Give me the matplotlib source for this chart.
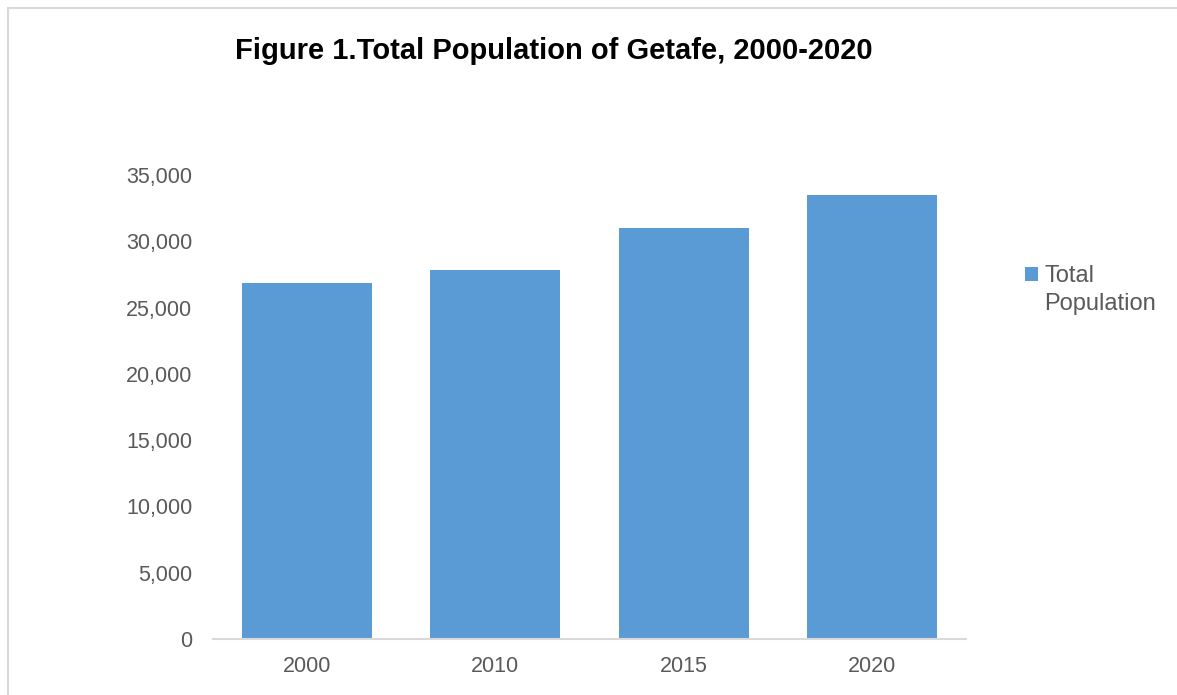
import matplotlib.pyplot as plt
from matplotlib.patches import Rectangle
from matplotlib.container import BarContainer
from matplotlib.legend_handler import HandlerPatch, update_from_first_child
from matplotlib.ticker import FuncFormatter

years = ['2000', '2010', '2015', '2020']
population = [26830, 27830, 31000, 33490]
y_ticks = [0, 5000, 10000, 15000, 20000, 25000, 30000, 35000]

plt.rcParams['font.family'] = ['Liberation Sans', 'DejaVu Sans']

W, H = 1177, 695
fig = plt.figure(figsize=(W / 100, H / 100), dpi=100)

# chart area border (only top and left visible)
fig.patches.append(Rectangle((8 / W, -0.1), 1.2, 1 - 8 / H + 0.1,
                             transform=fig.transFigure, fill=False,
                             edgecolor='#d9d9d9', linewidth=1.5))

ax = fig.add_axes([213 / W, 1 - 639 / H, (966 - 213) / W, (639 - 175) / H])
ax.bar(years, population, width=0.69, color='#5b9bd5', label='Total\nPopulation')
ax.set_xlim(-0.5, 3.5)
ax.set_ylim(0, 35000)
ax.set_yticks(y_ticks)
ax.yaxis.set_major_formatter(FuncFormatter(lambda v, p: f'{int(v):,}'))

for s in ['top', 'right', 'left']:
    ax.spines[s].set_visible(False)
ax.spines['bottom'].set_color('#d9d9d9')
ax.spines['bottom'].set_linewidth(1.5)
ax.tick_params(axis='both', length=0, labelsize=15.5, colors='#595959')
ax.tick_params(axis='y', pad=15)
ax.tick_params(axis='x', pad=12)

fig.text(554 / W, 1 - 51 / H, 'Figure 1.Total Population of Getafe, 2000-2020',
         ha='center', va='center', fontsize=21, fontweight='bold', color='black')


# legend square sits next to the first line of the label, like Excel
def top_square(legend, orig_handle, xdescent, ydescent, width, height, fontsize):
    return Rectangle((-xdescent, -ydescent + 0.7 * fontsize), width, height)


leg = fig.legend(loc='upper left', bbox_to_anchor=(1016 / W, 1 - 256 / H),
                 frameon=False, fontsize=17, handlelength=0.55, handleheight=0.55,
                 handletextpad=0.25, borderaxespad=0,
                 handler_map={BarContainer: HandlerPatch(patch_func=top_square,
                                                         update_func=update_from_first_child)})
for t in leg.get_texts():
    t.set_color('#595959')
    t.set_linespacing(1.35)

fig.savefig('out.png', dpi=100, facecolor='white')
